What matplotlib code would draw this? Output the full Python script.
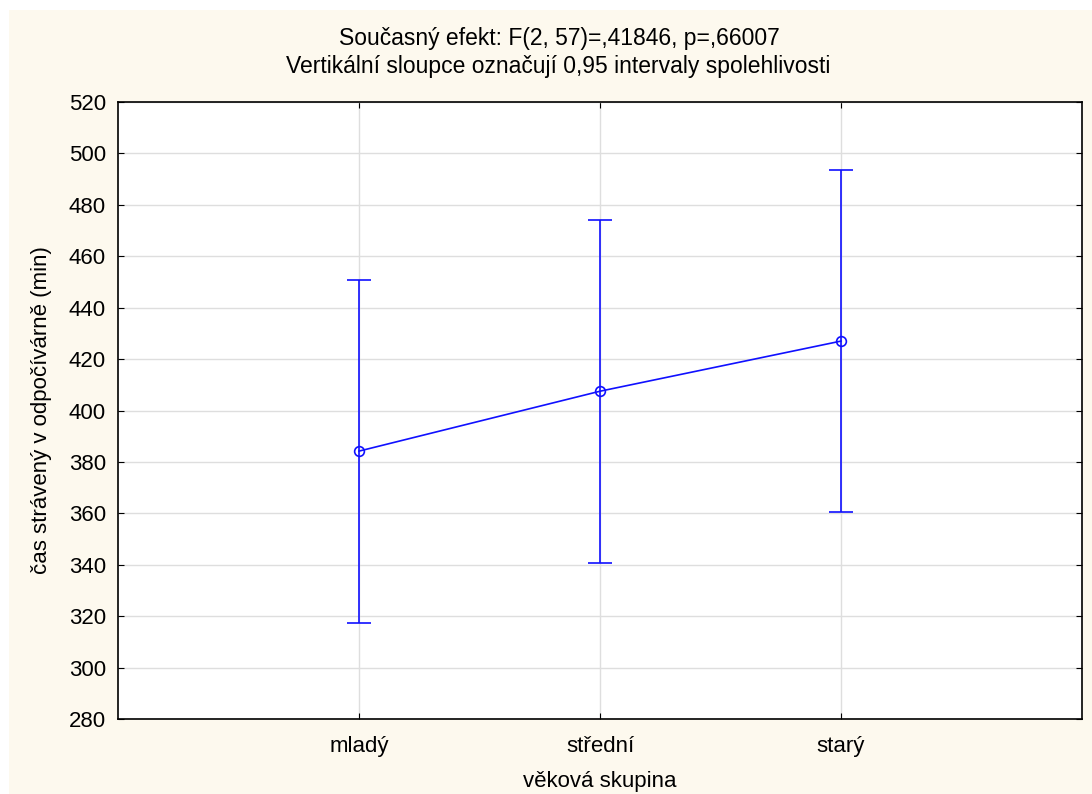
import numpy as np
import matplotlib.pyplot as plt
from matplotlib.patches import Rectangle

plt.rcParams['font.family'] = ['Liberation Sans', 'DejaVu Sans']

# data
groups = ["mladý", "střední", "starý"]
means = [384.2, 407.5, 427.0]
lower = [317.4, 340.8, 360.4]
upper = [450.8, 474.2, 493.6]

title1 = "Současný efekt: F(2, 57)=,41846, p=,66007"
title2 = "Vertikální sloupce označují 0,95 intervaly spolehlivosti"

blue = "#1010ff"
cream = "#fdf9ee"
fs = 16

fig = plt.figure(figsize=(10.92, 7.94), dpi=100)
fig.patch.set_facecolor("white")
fig.patches.append(Rectangle((9 / 1092, 0), 1 - 9 / 1092, 1 - 10 / 794,
                             transform=fig.transFigure, facecolor=cream,
                             edgecolor="none", zorder=-10))

ax = fig.add_axes([118 / 1092, 1 - 719 / 794, 964 / 1092, 617 / 794])
ax.set_facecolor("white")

x = np.arange(len(groups))
m = np.array(means)
err = [m - np.array(lower), np.array(upper) - m]
ax.errorbar(x, m, yerr=err, color=blue, lw=1.2, elinewidth=1.2,
            capsize=8.6, capthick=1.2, marker="o", ms=7,
            mfc="none", mec=blue, mew=1.2, zorder=3)

ax.set_xlim(-1, 3)
ax.set_ylim(280, 520)
ax.set_yticks(np.arange(280, 521, 20))
ax.set_xticks(x)
ax.set_xticklabels(groups)
ax.grid(True, color="#dedede", lw=1)
ax.set_axisbelow(True)
ax.tick_params(direction="in", length=4, labelsize=fs, top=True, right=True,
               color="black")
ax.tick_params(axis="y", pad=8.6)
ax.tick_params(axis="x", pad=12)
for s in ax.spines.values():
    s.set_linewidth(1.2)

ax.set_xlabel("věková skupina", fontsize=fs, labelpad=10)
ax.set_ylabel("čas strávený v odpočívárně (min)", fontsize=fs, labelpad=12)

fig.text(559 / 1092, 1 - 38 / 794, title1, ha="center", va="center", fontsize=16.5)
fig.text(558 / 1092, 1 - 67 / 794, title2, ha="center", va="center", fontsize=16.5)

fig.savefig("out.png", dpi=100, facecolor=fig.get_facecolor())
